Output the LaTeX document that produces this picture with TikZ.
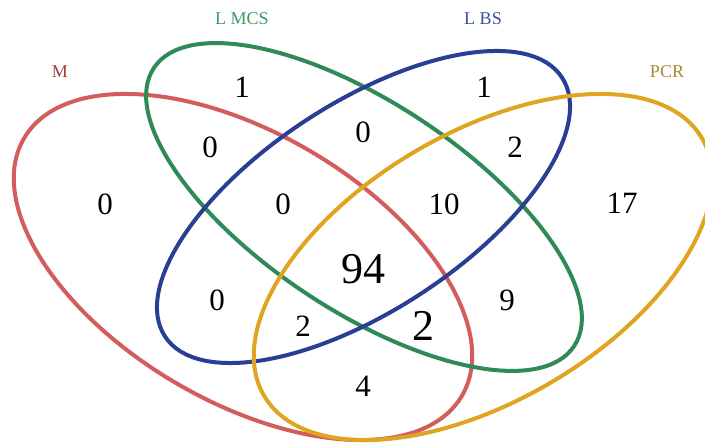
\documentclass[tikz,border=0pt]{standalone}
\usepackage{fontspec}
\setmainfont{Liberation Serif}
\usepackage{xcolor}
\usepackage{tikz}
\definecolor{vennred}{HTML}{D35C5C}
\definecolor{venngreen}{HTML}{2E8B57}
\definecolor{vennblue}{HTML}{2A3F93}
\definecolor{venngold}{HTML}{E0A520}
\definecolor{namered}{HTML}{A33B3B}
\definecolor{namegreen}{HTML}{3D9A63}
\definecolor{nameblue}{HTML}{3B4FA0}
\definecolor{namegold}{HTML}{A8852A}

\begin{document}
\begin{tikzpicture}[
  x=1pt, y=-1pt,
  ring/.style={line width=4pt},
  region/.style={inner sep=0pt, font=\fontsize{31}{31}\selectfont},
  bigregion/.style={inner sep=0pt, font=\fontsize{44}{44}\selectfont},
  setname/.style={inner sep=0pt, font=\fontsize{18}{18}\selectfont}
]
\useasboundingbox (0,0) rectangle (705,443);
% the four sets
\draw[ring, vennred, rotate around={-30.5:(243,267)}] (243,267) ellipse [x radius=254pt, y radius=134pt];
\draw[ring, venngreen, rotate around={-33.5:(364,207)}] (364,207) ellipse [x radius=252pt, y radius=104pt];
\draw[ring, vennblue, rotate around={33.1:(363.5,207)}] (363.5,207) ellipse [x radius=237pt, y radius=104pt];
\draw[ring, venngold, rotate around={30.5:(483,267)}] (483,267) ellipse [x radius=254pt, y radius=134pt];
% set names
\node[setname, namered] (lab-m) at (60,72) {M};
\node[setname, namegreen] (lab-mcs) at (242,19) {L MCS};
\node[setname, nameblue] (lab-bs) at (483,19) {L BS};
\node[setname, namegold] (lab-pcr) at (667,72) {PCR};
% counts
\node[region] (m) at (105,204) {0};
\node[region] (mcs) at (242,87) {1};
\node[region] (bs) at (484,87) {1};
\node[region] (pcr) at (622,203) {17};
\node[region] (m-mcs) at (210,147) {0};
\node[region] (mcs-bs) at (363,132) {0};
\node[region] (bs-pcr) at (515,147) {2};
\node[region] (m-mcs-bs) at (283,204) {0};
\node[region] (mcs-bs-pcr) at (444,204) {10};
\node[bigregion] (all) at (363,269) {94};
\node[region] (m-bs) at (217,300) {0};
\node[region] (mcs-pcr) at (507,300) {9};
\node[region] (m-bs-pcr) at (303,326) {2};
\node[bigregion] (m-mcs-pcr) at (423,326) {2};
\node[region] (m-pcr) at (363,386) {4};
\end{tikzpicture}
\end{document}
